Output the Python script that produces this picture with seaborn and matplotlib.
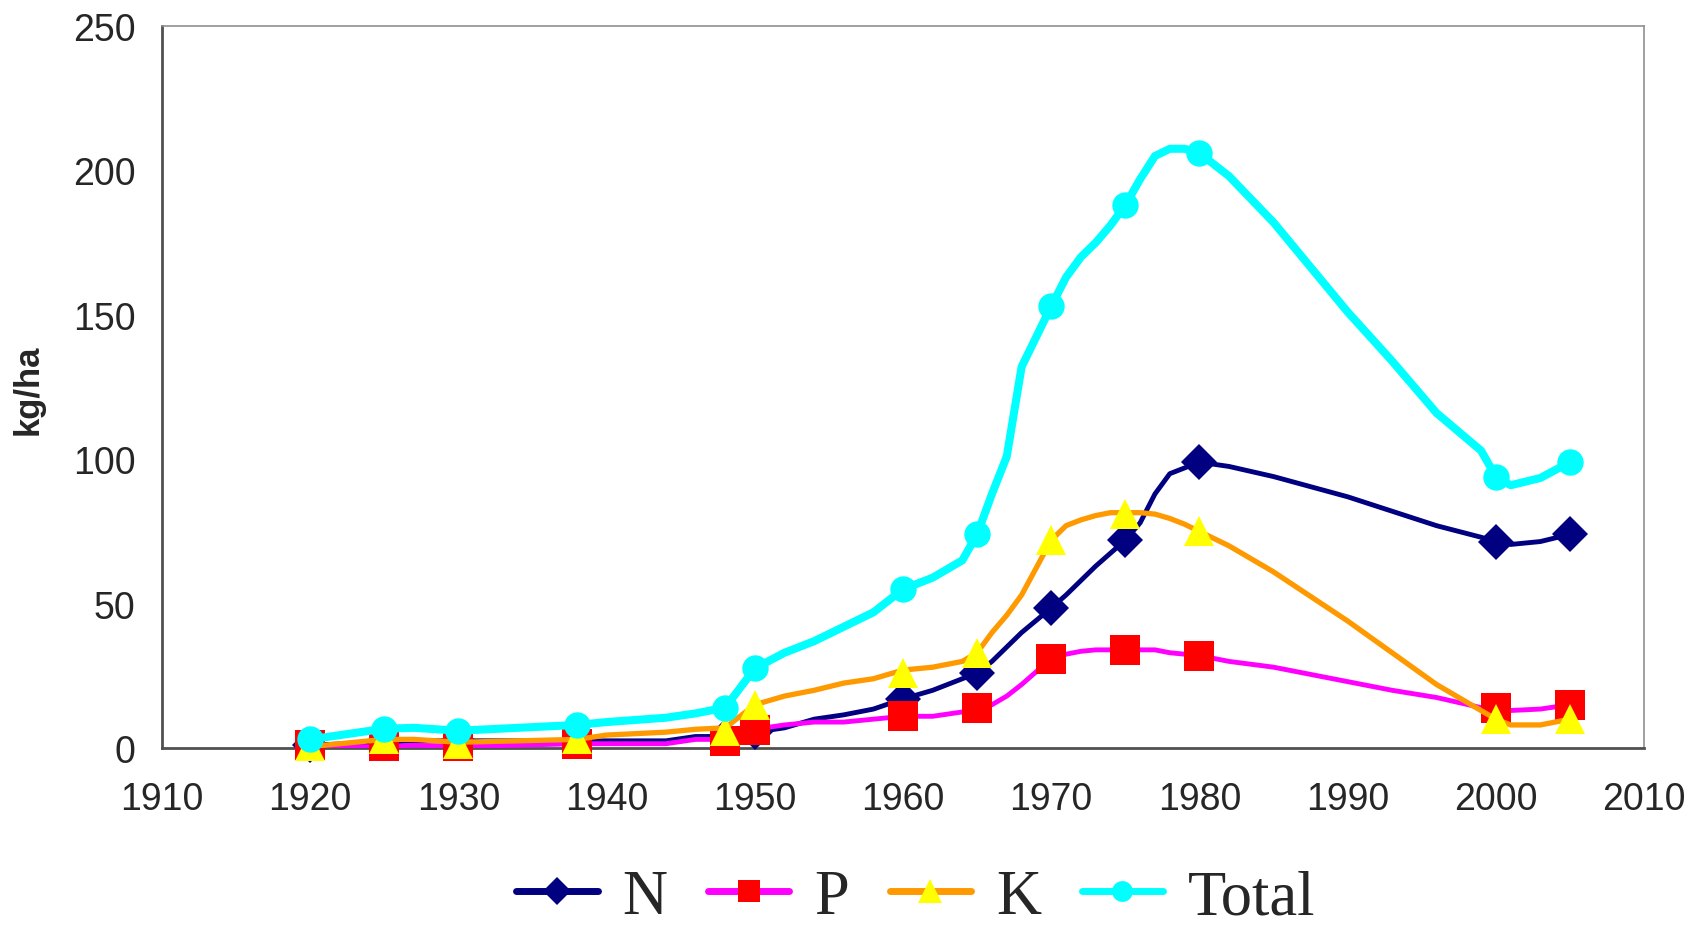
import matplotlib
matplotlib.use("Agg")
import matplotlib.pyplot as plt
from matplotlib.lines import Line2D
import seaborn as sns
import pandas as pd

# ---- data ----
line_years = [1920, 1925, 1927, 1930, 1934, 1938, 1940, 1944, 1946, 1948, 1950, 1952, 1954,
              1956, 1958, 1960, 1962, 1964, 1965, 1966, 1967, 1968, 1970, 1971, 1972, 1973,
              1974, 1975, 1976, 1977, 1978, 1979, 1980, 1982, 1985, 1990, 1993, 1996, 1999,
              2000, 2001, 2003, 2005]
n_line = [1, 2, 2.5, 2.5, 2.5, 2.5, 2.5, 2.5, 4, 4, 5.5, 7, 10, 11.5, 13.5, 17, 20, 24, 26, 30,
          35, 40, 48.5, 53, 58, 63, 67.5, 72, 78, 88, 95, 97, 99, 97.5, 94, 87, 82, 77, 73,
          71.5, 70.5, 71.5, 74]
p_line = [0.5, 0.5, 1, 0.5, 1, 1.5, 1.5, 1.5, 3, 3, 6.5, 8, 9, 9, 10, 11, 11, 12.5, 13, 15,
          18, 22, 31, 32.5, 33.5, 34, 34, 34, 34, 34, 33, 32.5, 32, 30, 28, 23, 20, 17.5, 14,
          13.5, 13, 13.5, 15]
k_line = [0.5, 3, 3, 2, 2.5, 3, 4.5, 5.5, 6.5, 7, 15, 18, 20, 22.5, 24, 27, 28, 30, 33, 40,
          46, 53, 72, 77, 79, 80.5, 81.5, 81.5, 81.5, 81, 79.5, 77.5, 75, 70, 61, 44, 33, 22,
          13, 10, 8, 8, 10]
total_line = [3, 6.7, 7, 6, 7, 8, 9, 10.5, 12, 14, 27.6, 33, 37, 42, 47, 55, 59, 65, 74, 88,
              101, 132, 153, 163, 170, 175, 181, 188, 197, 205, 207.5, 207.5, 206, 198, 182,
              151, 134, 116, 103, 94, 91, 93.5, 99]

marker_years = [1920, 1925, 1930, 1938, 1948, 1950, 1960, 1965, 1970, 1975, 1980, 2000, 2005]
n_marks = [1, 2, 2.5, 2.5, 4, 5.5, 17, 26, 48.5, 72, 99, 71.5, 74]
p_marks = [1, 0.7, 0.8, 1.5, 2.6, 6.3, 11, 14, 31, 34, 32, 14, 15]
k_marks = [0.7, 3, 1.5, 3, 6, 15, 26, 33, 72, 81, 75, 10, 10]
total_marks = [3, 6.7, 6, 8, 14, 27.6, 55, 74, 153, 188, 206, 94, 99]

series_names = ["N", "P", "K", "Total"]
line_colors = ["#000080", "#FF00FF", "#FF9900", "#00FFFF"]
marker_colors = ["#000080", "#FF0000", "#FFFF00", "#00FFFF"]
marker_shapes = ["D", "s", "^", "o"]
marker_sizes = [18, 22, 22, 19]
legend_marker_sizes = [14, 16, 17, 15]
line_widths = [3.5, 3.5, 3.8, 5.8]

x_ticks = [1910, 1920, 1930, 1940, 1950, 1960, 1970, 1980, 1990, 2000, 2010]
y_ticks = [0, 50, 100, 150, 200, 250]

lines_all = [n_line, p_line, k_line, total_line]
marks_all = [n_marks, p_marks, k_marks, total_marks]

# ---- plot ----
sns.set_style("white")
plt.rcParams["font.family"] = ["Liberation Sans", "DejaVu Sans"]

fig = plt.figure(figsize=(16.9, 9.29), dpi=100)
ax = fig.add_axes([0.0959, 0.1937, 0.8769, 0.7772])

handles = []
for i, name in enumerate(series_names):
    ldf = pd.DataFrame({"year": line_years, "value": lines_all[i]})
    mdf = pd.DataFrame({"year": marker_years, "value": marks_all[i]})
    sns.lineplot(data=ldf, x="year", y="value", ax=ax, color=line_colors[i],
                 linewidth=line_widths[i], sort=False, zorder=2 + 2 * i,
                 solid_joinstyle="round", solid_capstyle="round")
    ax.plot(mdf["year"], mdf["value"], linestyle="none", marker=marker_shapes[i],
            markersize=marker_sizes[i],
            markerfacecolor=marker_colors[i], markeredgewidth=0,
            zorder=3 + 2 * i, clip_on=False)
    handles.append(Line2D([0], [0], color=line_colors[i], linewidth=5,
                          marker=marker_shapes[i], markersize=legend_marker_sizes[i],
                          markerfacecolor=marker_colors[i], markeredgewidth=0,
                          solid_capstyle="round"))

ax.set_xlim(1910, 2010)
ax.set_ylim(0, 250)
ax.set_xticks(x_ticks)
ax.set_yticks(y_ticks)
ax.tick_params(axis="both", direction="out", length=8, width=1.2, color="#404040",
               labelsize=27)
ax.tick_params(axis="x", pad=16)
ax.tick_params(axis="y", pad=11)
ax.set_xlabel("")
ax.set_ylabel("kg/ha", fontsize=25, fontweight="bold")
ax.yaxis.set_label_coords(-0.079, 0.497)

for side in ["left", "bottom"]:
    ax.spines[side].set_color("#505050")
    ax.spines[side].set_linewidth(2.0)
for side in ["top", "right"]:
    ax.spines[side].set_color("#909090")
    ax.spines[side].set_linewidth(1.2)

if ax.get_legend() is not None:
    ax.get_legend().remove()

fig.legend(handles, series_names, loc="center", bbox_to_anchor=(0.542, 0.032),
           ncol=4, frameon=False, handlelength=1.3, columnspacing=0.65, handletextpad=0.4,
           prop={"family": "Liberation Serif", "size": 45})

fig.savefig("out.png", dpi=100, facecolor="white")
